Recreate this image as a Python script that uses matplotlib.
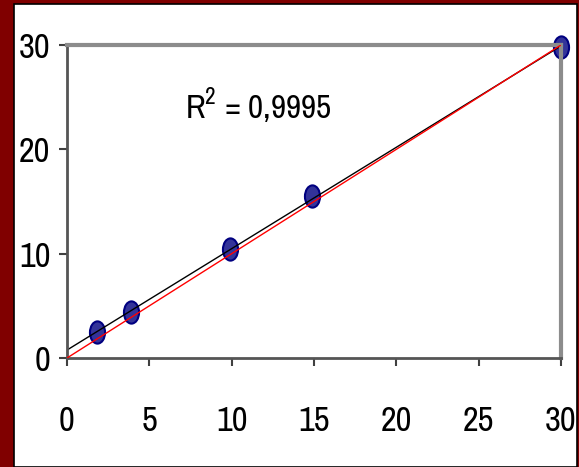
import numpy as np
import matplotlib
matplotlib.use('Agg')
import matplotlib.pyplot as plt
from matplotlib import font_manager
from matplotlib.patches import Rectangle
from matplotlib.path import Path
from matplotlib.transforms import Affine2D

# data
x_vals = [1.8, 3.9, 9.9, 14.9, 30.0]
y_vals = [2.5, 4.4, 10.4, 15.5, 29.8]
ticks = [0, 5, 10, 15, 20, 25, 30]
r2_label = 'R$^2$ = 0,9995'

# narrow font if we have one (reference looks like Arial Narrow)
names = {f.name for f in font_manager.fontManager.ttflist}
wanted = ['Liberation Sans Narrow', 'Arial Narrow', 'Pragati Narrow',
          'Archivo Narrow', 'PT Sans Narrow', 'Roboto Condensed',
          'Open Sans Condensed', 'Fira Sans Condensed', 'DejaVu Sans']
fam = [f for f in wanted if f in names][0]
plt.rcParams['font.family'] = fam
plt.rcParams['mathtext.fontset'] = 'custom'
plt.rcParams['mathtext.rm'] = fam

W, H = 579, 467
fig = plt.figure(figsize=(W / 100, H / 100), dpi=100, facecolor='#800000')
# white panel with thin black frame inside the maroon border
fig.patches.append(Rectangle((14 / W, 0), (577 - 14) / W, (463 - 0) / H,
                             transform=fig.transFigure, facecolor='white',
                             edgecolor='black', linewidth=1.2, zorder=-5))

ax = fig.add_axes([67 / W, 1 - 358 / H, (561 - 67) / W, (358 - 45) / H])
ax.set_facecolor('none')

# trendline (black) and the 1:1 line (red)
slope, icpt = np.polyfit(x_vals, y_vals, 1)
xl = np.array([0, 30])
ax.plot(xl, icpt + slope * xl, color='black', lw=1.0, zorder=2)
ax.plot(xl, xl, color='red', lw=1.0, zorder=3)

# tall ellipse marker
ell = Path.unit_circle().transformed(Affine2D().scale(0.68, 1.0))
ax.plot(x_vals, y_vals, linestyle='none', marker=ell, markersize=16,
        markerfacecolor='#333399', markeredgecolor='#000080',
        markeredgewidth=1.5, zorder=1, clip_on=False)

ax.text(185 / W, 1 - 118 / H, r2_label, transform=fig.transFigure,
        fontsize=26, ha='left', va='baseline')

ax.set_xlim(0, 30)
ax.set_ylim(0, 30)
ax.set_xticks(ticks)
ax.set_yticks(ticks[::2])
ax.tick_params(axis='both', direction='out', length=6, width=1.5,
               color='#404040', labelsize=27)
ax.tick_params(axis='x', pad=28)
ax.tick_params(axis='y', pad=6)

for s in ['top', 'right']:
    ax.spines[s].set_color('#8c8c8c')
    ax.spines[s].set_linewidth(3)
for s in ['left', 'bottom']:
    ax.spines[s].set_color('#555555')
    ax.spines[s].set_linewidth(2)

fig.savefig('out.png', dpi=100, facecolor=fig.get_facecolor())
